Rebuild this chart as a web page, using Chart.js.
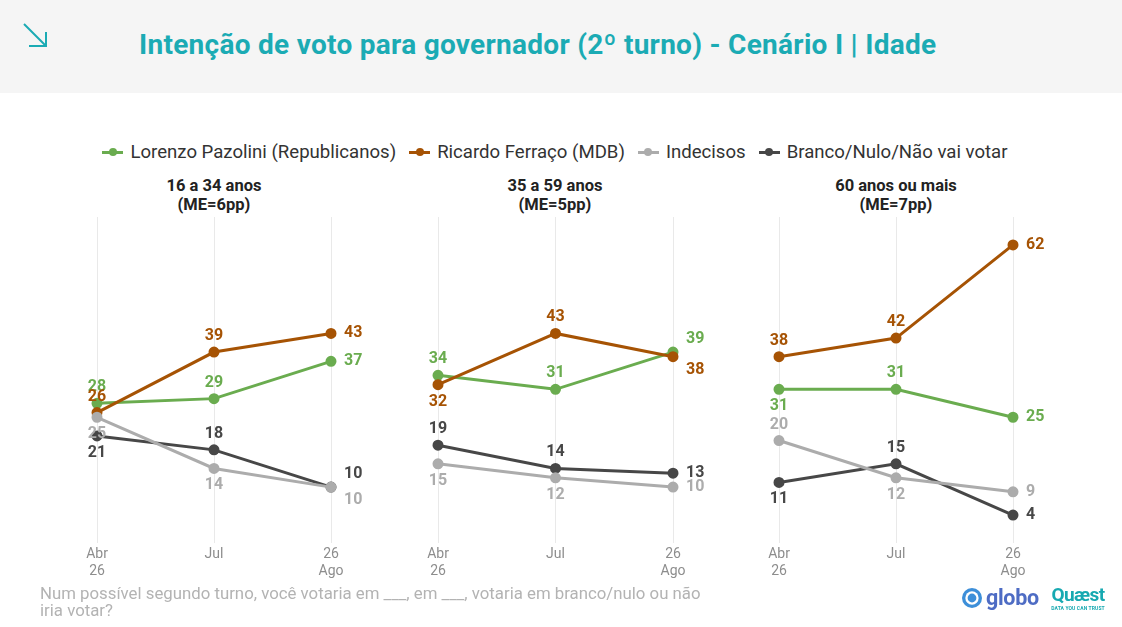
<!DOCTYPE html>
<html lang="pt-BR">
<head>
<meta charset="utf-8">
<title>Intenção de voto para governador (2º turno) - Cenário I | Idade</title>
<script src="https://cdn.jsdelivr.net/npm/chart.js@4.4.1/dist/chart.umd.min.js"></script>
<style>
  html, body { margin: 0; padding: 0; }
  body { width: 1122px; height: 627px; position: relative; background: #fff; font-family: Roboto, "Noto Sans", sans-serif; overflow: hidden; }
  .header { position: absolute; left: 0; top: 0; width: 1122px; height: 93px; background: #f5f5f5; }
  .header svg { position: absolute; left: 21px; top: 21px; }
  .header h1 { position: absolute; left: 139px; top: 28px; margin: 0; font-size: 28px; font-weight: 700; color: #1babb4; letter-spacing: 0.28px; white-space: nowrap; line-height: 34px; }
  .legend { position: absolute; top: 141px; left: 0; width: 1110px; display: flex; justify-content: center; gap: 13px; font-size: 18.6px; color: #333; }
  .legend span { display: inline-flex; align-items: center; white-space: nowrap; }
  .legend i { position: relative; display: inline-block; width: 21px; height: 3px; margin-right: 7px; }
  .legend i::after { content: ""; position: absolute; left: 6.5px; top: -2.5px; width: 8px; height: 8px; border-radius: 50%; background: inherit; }
  .ptitle { position: absolute; top: 176px; width: 240px; text-align: center; font-size: 16.5px; font-weight: 700; line-height: 19px; color: #222; }
  canvas { position: absolute; }
  .footer { position: absolute; left: 40px; top: 585px; font-size: 16.8px; line-height: 17px; color: #b3b3b3; }
  .globo { position: absolute; left: 962px; top: 588px; display: flex; align-items: center; }
  .globo b { font-size: 21.5px; color: #4e6cc4; margin-left: 4px; line-height: 20px; letter-spacing: -0.3px; }
  .quaest { position: absolute; left: 1050px; top: 585px; width: 56px; text-align: center; color: #17a9b1; }
  .quaest b { display: block; font-size: 19px; line-height: 20px; letter-spacing: -0.6px; }
  .quaest small { display: block; font-size: 5px; font-weight: 700; letter-spacing: 0.1px; line-height: 6px; white-space: nowrap; }
</style>
</head>
<body>
<div class="header">
  <svg width="30" height="30" viewBox="0 0 30 30"><path d="M3 3 L25 25 M25 11 L25 25 L8 25" fill="none" stroke="#1babb4" stroke-width="2"/></svg>
  <h1>Intenção de voto para governador (2º turno) - Cenário I | Idade</h1>
</div>

<div class="legend" id="legend"></div>

<div class="ptitle" style="left:94px">16 a 34 anos<br>(ME=6pp)</div>
<div class="ptitle" style="left:435px">35 a 59 anos<br>(ME=5pp)</div>
<div class="ptitle" style="left:776px">60 anos ou mais<br>(ME=7pp)</div>

<canvas id="chartYoung" width="340" height="380" style="left:40px;top:210px"></canvas>
<canvas id="chartMiddle" width="340" height="380" style="left:380px;top:210px"></canvas>
<canvas id="chartOld" width="340" height="380" style="left:720px;top:210px"></canvas>

<div class="footer">Num possível segundo turno, você votaria em ___, em ___, votaria em branco/nulo ou não<br>iria votar?</div>

<div class="globo">
  <svg width="20" height="20" viewBox="0 0 21 21"><circle cx="10.5" cy="10.5" r="10.5" fill="#3d8fd9"/><circle cx="10.5" cy="10.5" r="7" fill="#fff"/><circle cx="10.5" cy="10.5" r="4.6" fill="#3d8fd9"/></svg>
  <b>globo</b>
</div>
<div class="quaest"><b>Quæst</b><small>DATA YOU CAN TRUST</small></div>

<script>
const months = [["Abr", "26"], "Jul", ["26", "Ago"]];
const seriesNames = ["Lorenzo Pazolini (Republicanos)", "Ricardo Ferraço (MDB)", "Indecisos", "Branco/Nulo/Não vai votar"];
const seriesColors = ["#6aac4f", "#a65304", "#acacac", "#474747"];

// 16 a 34 anos
const pazolini16to34 = [28, 29, 37];
const ferraco16to34 = [26, 39, 43];
const indecisos16to34 = [25, 14, 10];
const branco16to34 = [21, 18, 10];

// 35 a 59 anos
const pazolini35to59 = [34, 31, 39];
const ferraco35to59 = [32, 43, 38];
const indecisos35to59 = [15, 12, 10];
const branco35to59 = [19, 14, 13];

// 60 anos ou mais
const pazolini60plus = [31, 31, 25];
const ferraco60plus = [38, 42, 62];
const indecisos60plus = [20, 12, 9];
const branco60plus = [11, 15, 4];

// where each value label goes: a = above, b = below, r = right, ru/rd = right and up/down
const labelSpots = {
  chartYoung: [["a", "a", "r"], ["a", "a", "r"], ["b", "b", "rd"], ["b", "a", "ru"]],
  chartMiddle: [["a", "a", "ru"], ["b", "a", "rd"], ["b", "b", "r"], ["a", "a", "r"]],
  chartOld: [["b", "a", "r"], ["a", "a", "r"], ["a", "b", "r"], ["b", "a", "r"]],
};

const legendBox = document.getElementById("legend");
seriesNames.forEach((name, i) => {
  const item = document.createElement("span");
  item.innerHTML = `<i style="background:${seriesColors[i]}"></i>${name}`;
  legendBox.appendChild(item);
});

const valueLabels = {
  id: "valueLabels",
  afterDatasetsDraw(chart) {
    const { ctx } = chart;
    const spots = labelSpots[chart.canvas.id];
    ctx.save();
    ctx.font = "700 16px Roboto, 'Noto Sans', sans-serif";
    chart.data.datasets.forEach((ds, di) => {
      const meta = chart.getDatasetMeta(di);
      meta.data.forEach((pt, pi) => {
        const spot = spots[ds.seriesIndex][pi];
        let x = pt.x, y = pt.y;
        ctx.textBaseline = "middle";
        if (spot === "a") { ctx.textAlign = "center"; y -= 16; }
        else if (spot === "b") { ctx.textAlign = "center"; y += 17; }
        else {
          ctx.textAlign = "left"; x += 13;
          if (spot === "ru") y -= 13;
          if (spot === "rd") y += 13;
        }
        ctx.fillStyle = ds.borderColor;
        ctx.fillText(String(ds.data[pi]), x, y);
      });
    });
    ctx.restore();
  },
};

const drawOrder = [0, 1, 3, 2];

const makePanel = (canvasId, seriesValues, padLeft, padRight) => {
  const datasets = drawOrder.map((si, k) => ({
    label: seriesNames[si],
    seriesIndex: si,
    data: seriesValues[si],
    borderColor: seriesColors[si],
    backgroundColor: seriesColors[si],
    borderWidth: 3,
    pointRadius: 4,
    pointHoverRadius: 4,
    tension: 0,
    clip: false,
    order: drawOrder.length - k,
  }));

  new Chart(document.getElementById(canvasId), {
    type: "line",
    data: { labels: months, datasets },
    options: {
      responsive: false,
      animation: false,
      events: [],
      layout: { padding: { left: padLeft, right: padRight, top: 7, bottom: 7 } },
      plugins: { legend: { display: false }, tooltip: { enabled: false } },
      scales: {
        x: {
          offset: false,
          grid: { color: "#e9e9e9", drawTicks: false, lineWidth: 1 },
          border: { display: false },
          ticks: {
            color: "#8d8d8d",
            padding: 3,
            maxRotation: 0,
            font: { family: "Roboto, 'Noto Sans', sans-serif", size: 14, lineHeight: 1.2 },
          },
          afterFit: (scale) => { scale.height = 40; },
        },
        y: { display: false, min: -2, max: 68 },
      },
    },
    plugins: [valueLabels],
  });
};

makePanel("chartYoung", [pazolini16to34, ferraco16to34, indecisos16to34, branco16to34], 57, 49);
makePanel("chartMiddle", [pazolini35to59, ferraco35to59, indecisos35to59, branco35to59], 58, 47);
makePanel("chartOld", [pazolini60plus, ferraco60plus, indecisos60plus, branco60plus], 59, 47);
</script>
</body>
</html>
